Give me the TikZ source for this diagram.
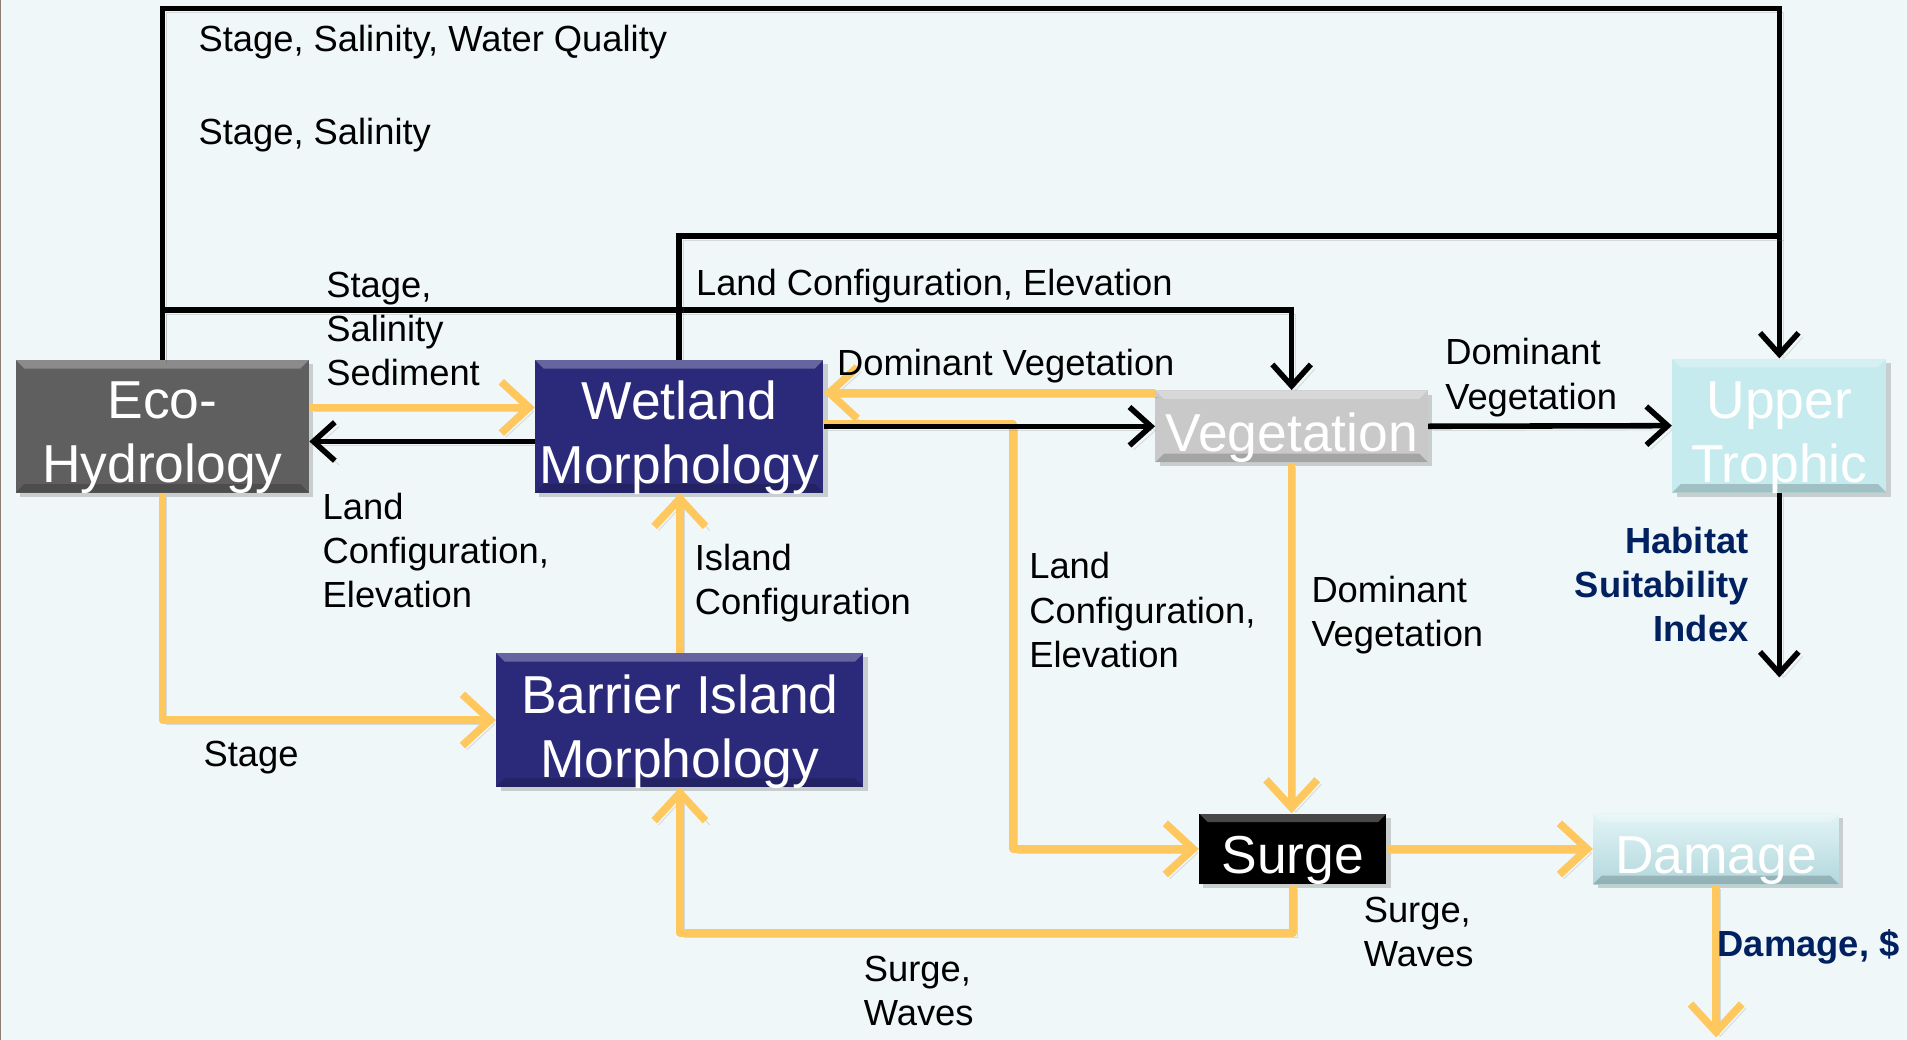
\documentclass[tikz,border=0pt]{standalone}
\usepackage{fontspec}
\setmainfont{Liberation Sans}
\usetikzlibrary{arrows.meta,positioning,shadows}

\definecolor{bgblue}{HTML}{F0F7F9}
\definecolor{ecogray}{HTML}{5F5F5F}
\definecolor{navybox}{HTML}{2B2A7A}
\definecolor{veggray}{HTML}{C9C9C9}
\definecolor{trophic}{HTML}{C5EBEF}
\definecolor{dmgtop}{HTML}{E2F4F6}
\definecolor{dmgbot}{HTML}{B3D8DD}
\definecolor{flow}{HTML}{FFC85E}
\definecolor{navytext}{HTML}{002060}
\definecolor{edge}{HTML}{8C7E70}

\tikzset{
  modelbox/.style={inner sep=0pt,
    drop shadow={shadow xshift=2pt, shadow yshift=-2pt, opacity=.35},
    path picture={
      \fill[white, opacity=.28] (path picture bounding box.north west) -- (path picture bounding box.north east)
        -- ([shift={(-4pt,-4pt)}]path picture bounding box.north east) -- ([shift={(4pt,-4pt)}]path picture bounding box.north west) -- cycle;
      \fill[black, opacity=.18] (path picture bounding box.south west) -- (path picture bounding box.south east)
        -- ([shift={(-4pt,4pt)}]path picture bounding box.south east) -- ([shift={(4pt,4pt)}]path picture bounding box.south west) -- cycle;
    }},
  boxtext/.style={text=white, align=center, inner sep=0pt, text depth=0pt, yshift=-2.85pt,
    font=\fontsize{25}{30}\selectfont},
  lbl/.style={anchor=north west, inner sep=0pt, align=left, font=\fontsize{17}{20.7}\selectfont},
  result/.style={inner sep=0pt, text=navytext, font=\fontsize{17}{20.7}\selectfont\bfseries},
  shade line/.style={preaction={draw=black!60, draw opacity=.2, transform canvas={xshift=2pt, yshift=-2pt}}},
  blk/.style={shade line, line width=2.6pt, -{Straight Barb[length=10pt,width=18pt]}},
  org/.style={shade line, draw=flow, line width=3.6pt, line join=round, -{Straight Barb[length=13pt,width=24pt]}}
}

\begin{document}
\begin{tikzpicture}[x=0.02cm, y=-0.02cm]
		\fill[bgblue] (0,0) rectangle (1568,855);
		\useasboundingbox (0,0) rectangle (1568,855);
		\draw[edge, line width=1.2pt] (0,0) -- (0,855);
		
		\node[modelbox, fill=ecogray, minimum width=4.82cm, minimum height=2.18cm,
			label={[boxtext]center:{Eco-\\Hydrology}}] (eco) at (133.5,350.5) {};
		\node[modelbox, fill=navybox, minimum width=4.74cm, minimum height=2.18cm,
			label={[boxtext]center:{Wetland\\Morphology}}] (wet) at (558.5,350.5) {};
		\node[modelbox, fill=veggray, minimum width=4.48cm, minimum height=1.18cm,
			label={[boxtext]center:Vegetation}] (veg) at (1062,350.5) {};
		\node[modelbox, fill=trophic, minimum width=3.52cm, minimum height=2.2cm,
			label={[boxtext]center:{Upper\\Trophic}}] (upper) at (1463,350) {};
		\node[modelbox, fill=navybox, minimum width=6.04cm, minimum height=2.2cm,
			label={[boxtext]center:{Barrier Island\\Morphology}}] (barrier) at (559,592) {};
		\node[modelbox, fill=black, minimum width=3.08cm, minimum height=1.16cm,
			label={[boxtext]center:Surge}] (surge) at (1063,698) {};
		\node[modelbox, top color=dmgtop, bottom color=dmgbot, minimum width=4.04cm, minimum height=1.16cm,
			label={[boxtext]center:Damage}] (damage) at (1411,698) {};
		
		\coordinate (ytop) at (0,7);
		\coordinate (ywet) at (0,194);
		\coordinate (yveg) at (0,255);
		\coordinate (xturn) at (833,0);
		\coordinate (yloop) at (0,767);
		\coordinate (hsi) at (1463,557);
		\coordinate (dmg) at (1413,853);
		\coordinate (wetout) at ([yshift=.04cm]wet.east);
		
		\draw[org] ([yshift=.31cm]eco.east) -- ([yshift=.31cm]wet.west);
		\draw[org] ([yshift=.55cm]veg.west) -- ([yshift=.55cm]wet.east);
		\draw[org] (wetout) -- (xturn |- wetout) -- (xturn |- surge.west) -- (surge.west);
		\draw[org] (veg.south) -- (veg.south |- surge.north);
		\draw[org] (surge.east) -- (damage.west);
		\draw[org] (surge.south) -- (surge.south |- yloop) -- (barrier.south |- yloop) -- (barrier.south);
		\draw[org] (barrier.north) -- (barrier.north |- wet.south);
		\draw[org] (eco.south) |- (barrier.west);
		\draw[org] (damage.south) -- (damage.south |- dmg);
		
		\draw[blk] (eco.north) -- (eco.north |- ytop) -- (upper.north |- ytop) -- (upper.north);
		\draw[blk] (eco.north) -- (eco.north |- yveg) -- (veg.north |- yveg) -- (veg.north);
		\draw[blk, -] (wet.north) -- (wet.north |- ywet) -- (upper.north |- ywet);
		\draw[blk] (wet.east) -- (veg.west);
		\draw[blk] (veg.east) -- (upper.west);
		\draw[blk] ([yshift=-.25cm]wet.west) -- ([yshift=-.25cm]eco.east);
		\draw[blk] (upper.south) -- (upper.south |- hsi);
		
		\node[lbl] (l-swq) at (163,20) {Stage, Salinity, Water Quality};
		\node[lbl] (l-ss) at (163,97) {Stage, Salinity};
		\node[lbl] (l-sss) at (268,223) {Stage,\\Salinity\\Sediment};
		\node[lbl] (l-lce) at (572,221) {Land Configuration, Elevation};
		\node[lbl] (l-dv) at (688,287) {Dominant Vegetation};
		\node[lbl] (l-dvut) at (1188,278) {Dominant\\Vegetation};
		\node[lbl] (l-lceco) at (265,405) {Land\\Configuration,\\Elevation};
		\node[lbl] (l-ic) at (571,447) {Island\\Configuration};
		\node[lbl] (l-lcesurge) at (846,454) {Land\\Configuration,\\Elevation};
		\node[lbl] (l-dvsurge) at (1078,473) {Dominant\\Vegetation};
		\node[lbl] (l-stage) at (167,609) {Stage};
		\node[lbl] (l-swdmg) at (1121,737) {Surge,\\Waves};
		\node[lbl] (l-swbi) at (710,786) {Surge,\\Waves};
		\node[result, anchor=north east, align=right] (hsitxt) at (1438,433) {Habitat\\Suitability\\Index};
		\node[result, anchor=north west] (dmgtxt) at (1412,764) {Damage, \$};
\end{tikzpicture}
\end{document}
